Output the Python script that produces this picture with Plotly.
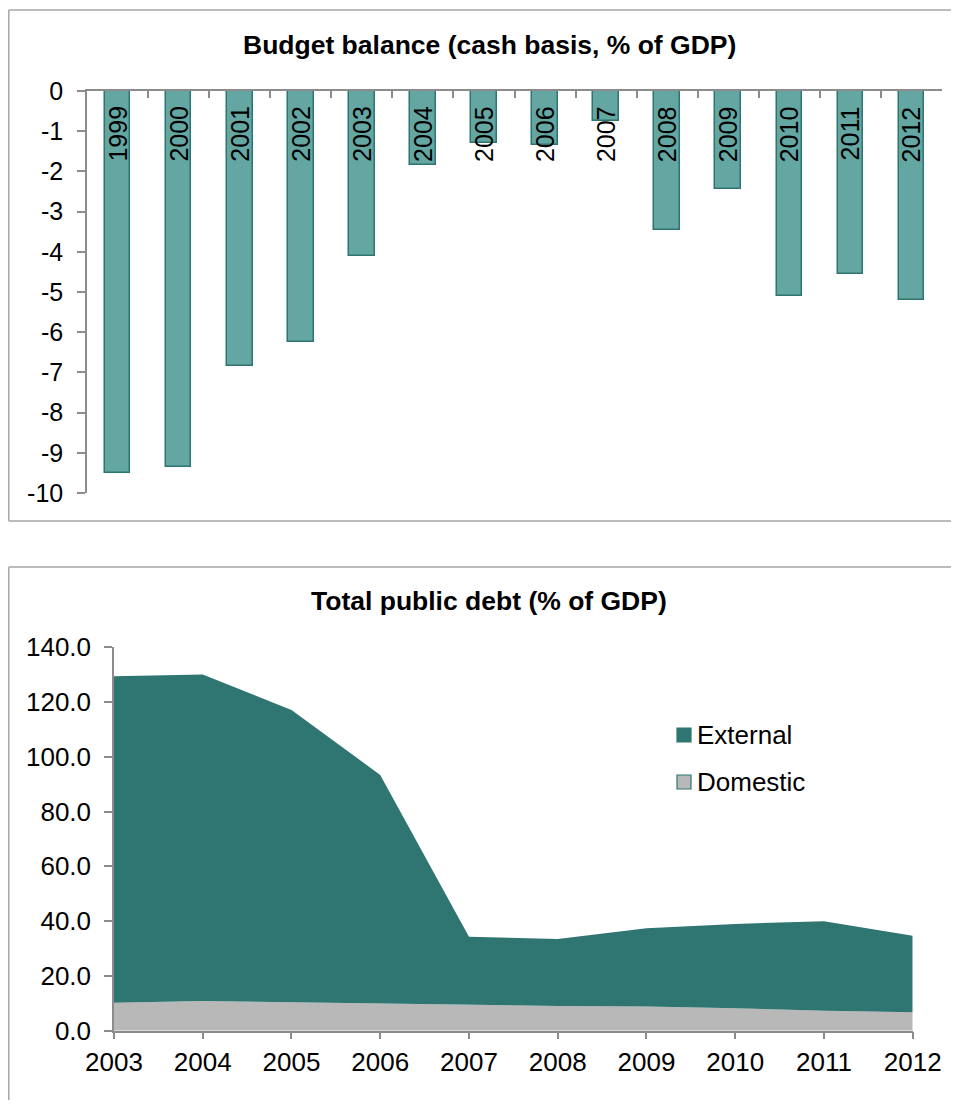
import plotly.graph_objects as go

# ---- data ----
bb_years = ["1999", "2000", "2001", "2002", "2003", "2004", "2005", "2006",
            "2007", "2008", "2009", "2010", "2011", "2012"]
bb_values = [-9.5, -9.35, -6.85, -6.25, -4.1, -1.85, -1.3, -1.35,
             -0.75, -3.45, -2.45, -5.1, -4.55, -5.2]
bb_ticks = list(range(-10, 1))

debt_years = [2003, 2004, 2005, 2006, 2007, 2008, 2009, 2010, 2011, 2012]
debt_domestic = [10.2, 10.8, 10.4, 9.9, 9.4, 9.0, 8.8, 8.2, 7.3, 6.7]
debt_external = [119.2, 119.3, 106.7, 83.5, 24.9, 24.5, 28.6, 30.8, 32.7, 28.0]
debt_ticks = [0, 20, 40, 60, 80, 100, 120, 140]

# page body has an 8px margin; the figure is sized to fit the window exactly
OFF = 8
W, H = 959 - 2 * OFF, 1108 - 2 * OFF
FONT = "Liberation Sans, Arial, sans-serif"
AXIS = "#8c8c8c"
BORDER = "#a6a6a6"
BAR_FILL = "#63a6a2"
BAR_LINE = "#2e7571"
EXT = "#2f7672"
DOM = "#b8b8b8"


def px_x(p):
    return (p - OFF) / W


def px_y(p):
    return 1 - (p - OFF) / H


fig = go.Figure()

fig.add_trace(go.Bar(
    x=bb_years, y=bb_values, width=0.42,
    marker=dict(color=BAR_FILL, line=dict(color=BAR_LINE, width=1.5)),
    xaxis="x", yaxis="y", showlegend=False,
))

fig.add_trace(go.Scatter(
    x=debt_years, y=debt_domestic, name="Domestic", stackgroup="debt",
    mode="lines", line=dict(width=0, color=EXT), fillcolor=DOM,
    xaxis="x2", yaxis="y2", showlegend=False,
))
fig.add_trace(go.Scatter(
    x=debt_years, y=debt_external, name="External", stackgroup="debt",
    mode="lines", line=dict(width=0, color=EXT), fillcolor=EXT,
    xaxis="x2", yaxis="y2", showlegend=False,
))

annotations = []
for i, yr in enumerate(bb_years):
    annotations.append(dict(
        x=i, y=0, xref="x", yref="y", text=yr, textangle=-90,
        showarrow=False, xanchor="center", yanchor="top", yshift=-13,
        font=dict(family=FONT, size=25, color="black"),
    ))

annotations.append(dict(
    x=px_x(490), y=px_y(45), xref="paper", yref="paper",
    text="<b>Budget balance (cash basis, % of GDP)</b>", showarrow=False,
    xanchor="center", yanchor="middle",
    font=dict(family=FONT, size=26.5, color="black"),
))
annotations.append(dict(
    x=px_x(489), y=px_y(601), xref="paper", yref="paper",
    text="<b>Total public debt (% of GDP)</b>", showarrow=False,
    xanchor="center", yanchor="middle",
    font=dict(family=FONT, size=26.5, color="black"),
))

# legend (manual, as in reference)
legend_items = [("External", EXT, EXT, 735), ("Domestic", DOM, EXT, 782)]
shapes = []
for name, fill, line, cy in legend_items:
    shapes.append(dict(
        type="rect", xref="paper", yref="paper",
        x0=px_x(677), x1=px_x(691), y0=px_y(cy + 7), y1=px_y(cy - 7),
        fillcolor=fill, line=dict(color=line, width=1.2),
    ))
    annotations.append(dict(
        x=px_x(695), y=px_y(cy), xref="paper", yref="paper", text=name,
        showarrow=False, xanchor="left", yanchor="middle",
        font=dict(family=FONT, size=26, color="black"),
    ))

# frame lines (left, top, bottom; right edge runs off the page)
def frame_line(x0, y0, x1, y1):
    return dict(type="line", xref="paper", yref="paper",
                x0=px_x(x0), y0=px_y(y0), x1=px_x(x1), y1=px_y(y1),
                line=dict(color=BORDER, width=1.5), layer="below")


shapes += [
    frame_line(8.8, 10, 8.8, 521),
    frame_line(8.8, 10, 959, 10),
    frame_line(8.8, 521, 959, 521),
    frame_line(8.8, 567, 8.8, 1108),
    frame_line(8.8, 567, 959, 567),
]

fig.update_layout(
    width=W, height=H,
    margin=dict(l=0, r=0, t=0, b=0, pad=0),
    paper_bgcolor="white", plot_bgcolor="white",
    font=dict(family=FONT, color="black"),
    bargap=0,
    xaxis=dict(
        domain=[px_x(87), px_x(942)], anchor="y", side="top",
        type="category", categoryorder="array", categoryarray=bb_years,
        range=[-0.5, len(bb_years) - 0.5], automargin=False,
        showline=True, linecolor=AXIS, linewidth=1.5,
        ticks="inside", ticklen=7, tickcolor=AXIS, tickwidth=1.5,
        tickson="boundaries", showticklabels=False, showgrid=False,
        zeroline=False,
    ),
    yaxis=dict(
        domain=[px_y(493), px_y(91)], anchor="x",
        range=[-10, 0], tickvals=bb_ticks,
        ticktext=[str(v) for v in bb_ticks],
        automargin=False,
        showline=True, linecolor=AXIS, linewidth=1.5,
        ticks="outside", ticklen=8, tickcolor=AXIS, tickwidth=1.5,
        ticklabelstandoff=9,
        tickfont=dict(family=FONT, size=25, color="black"),
        showgrid=False, zeroline=False,
    ),
    xaxis2=dict(
        domain=[px_x(114), px_x(912.7)], anchor="y2",
        range=[2003, 2012], tickvals=debt_years, automargin=False,
        showline=True, linecolor=AXIS, linewidth=1.5,
        ticks="outside", ticklen=7, tickcolor=AXIS, tickwidth=1.5,
        ticklabelstandoff=0,
        tickfont=dict(family=FONT, size=26, color="black"),
        showgrid=False, zeroline=False,
    ),
    yaxis2=dict(
        domain=[px_y(1030.7), px_y(647.3)], anchor="x2",
        range=[0, 140], tickvals=debt_ticks, tickformat=".1f",
        automargin=False,
        showline=True, linecolor=AXIS, linewidth=1.5,
        ticks="outside", ticklen=8, tickcolor=AXIS, tickwidth=1.5,
        ticklabelstandoff=8,
        tickfont=dict(family=FONT, size=26, color="black"),
        showgrid=False, zeroline=False,
    ),
    annotations=annotations,
    shapes=shapes,
)

fig.write_html("out.html")
